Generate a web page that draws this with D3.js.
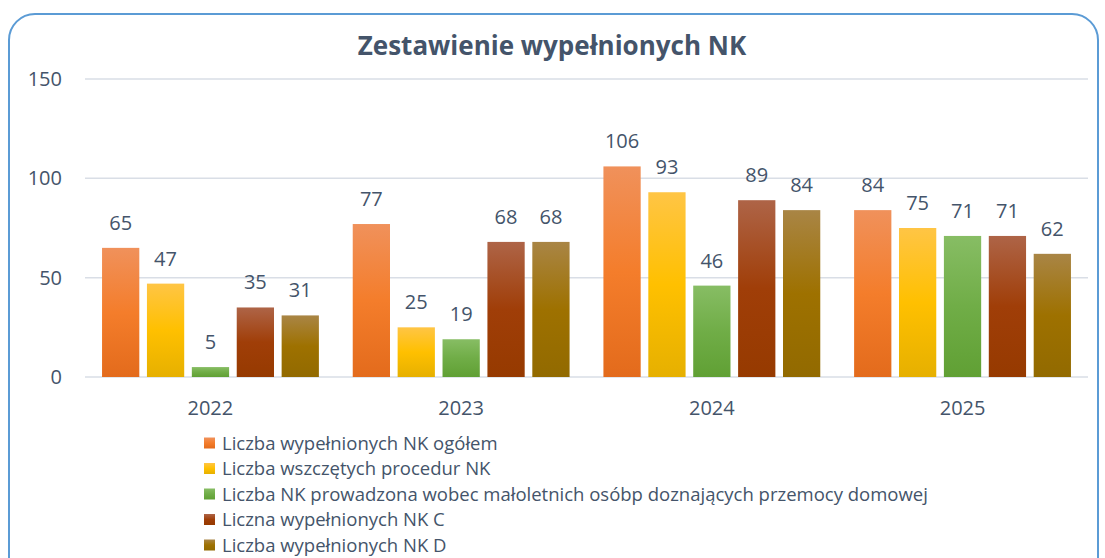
<!DOCTYPE html>
<html>
<head>
<meta charset="utf-8">
<script src="https://cdn.jsdelivr.net/npm/d3@7"></script>
<style>
  body { margin: 0; background: #fff; }
  svg { display: block; font-family: "Open Sans", sans-serif; }
</style>
</head>
<body>
<svg id="chart" width="1105" height="558"></svg>
<script>
// data
const years = ["2022", "2023", "2024", "2025"];
const seriesNames = [
  "Liczba wypełnionych NK ogółem",
  "Liczba wszczętych procedur NK",
  "Liczba NK prowadzona wobec małoletnich osóbp doznających przemocy domowej",
  "Liczna wypełnionych NK C",
  "Liczba wypełnionych NK D"
];
const ogolem = [65, 77, 106, 84];
const procedury = [47, 25, 93, 75];
const maloletni = [5, 19, 46, 71];
const nkC = [35, 68, 89, 71];
const nkD = [31, 68, 84, 62];
const yTicks = [0, 50, 100, 150];

const seriesValues = [ogolem, procedury, maloletni, nkC, nkD];
// gradient stops top / middle / bottom
const palette = [
  ["#F0915B", "#F47D2B", "#E36B1C"],
  ["#FFC545", "#FFC000", "#E6B000"],
  ["#87BD64", "#70AD47", "#60A034"],
  ["#AE6447", "#A03E08", "#963A00"],
  ["#A98545", "#9E7100", "#926A00"]
];
const textColor = "#44546A";

const svg = d3.select("#chart");

// outer rounded frame
svg.append("rect")
  .attr("x", 9).attr("y", 14)
  .attr("width", 1089).attr("height", 580)
  .attr("rx", 26).attr("ry", 26)
  .attr("fill", "#fff")
  .attr("stroke", "#5B9BD5")
  .attr("stroke-width", 2);

const defs = svg.append("defs");
palette.forEach((c, i) => {
  const g = defs.append("linearGradient")
    .attr("id", "grad" + i)
    .attr("x1", 0).attr("y1", 0).attr("x2", 0).attr("y2", 1);
  g.append("stop").attr("offset", "0%").attr("stop-color", c[0]);
  g.append("stop").attr("offset", "50%").attr("stop-color", c[1]);
  g.append("stop").attr("offset", "100%").attr("stop-color", c[2]);
});

// title
svg.append("text")
  .attr("x", 552).attr("y", 55)
  .attr("text-anchor", "middle")
  .attr("font-size", 26)
  .attr("font-weight", "bold")
  .attr("fill", textColor)
  .text("Zestawienie wypełnionych NK");

const x0 = d3.scaleBand().domain(years).range([85, 1088]).paddingInner(0.135).paddingOuter(0.068);
const x1 = d3.scaleBand().domain(d3.range(seriesNames.length)).range([0, x0.bandwidth()]).paddingInner(0.17);
const y = d3.scaleLinear().domain([0, 150]).range([377, 79]);

// grid
svg.append("g").selectAll("line")
  .data(yTicks)
  .join("line")
    .attr("x1", 85).attr("x2", 1088)
    .attr("y1", d => y(d)).attr("y2", d => y(d))
    .attr("stroke", "#D9DEE6")
    .attr("stroke-width", 1.5);

// y tick labels
svg.append("g").selectAll("text")
  .data(yTicks)
  .join("text")
    .attr("x", 62)
    .attr("y", d => y(d) + 7)
    .attr("text-anchor", "end")
    .attr("font-size", 20)
    .attr("fill", textColor)
    .text(d => d);

// x labels - band centers of the full year slot
const xSlot = d3.scaleBand().domain(years).range([85, 1088]);
svg.append("g").selectAll("text")
  .data(years)
  .join("text")
    .attr("x", d => xSlot(d) + xSlot.bandwidth() / 2)
    .attr("y", 415)
    .attr("text-anchor", "middle")
    .attr("font-size", 20)
    .attr("fill", textColor)
    .text(d => d);

// bars
const groups = svg.append("g").selectAll("g")
  .data(years)
  .join("g")
    .attr("transform", d => "translate(" + x0(d) + ",0)");

groups.selectAll("rect")
  .data((d, yi) => seriesValues.map((s, si) => ({ si: si, v: s[yi] })))
  .join("rect")
    .attr("x", d => x1(d.si))
    .attr("y", d => y(d.v))
    .attr("width", x1.bandwidth())
    .attr("height", d => y(0) - y(d.v))
    .attr("fill", d => "url(#grad" + d.si + ")");

groups.selectAll("text")
  .data((d, yi) => seriesValues.map((s, si) => ({ si: si, v: s[yi] })))
  .join("text")
    .attr("x", d => x1(d.si) + x1.bandwidth() / 2)
    .attr("y", d => y(d.v) - 18)
    .attr("text-anchor", "middle")
    .attr("font-size", 20)
    .attr("fill", textColor)
    .text(d => d.v);

// legend
const legend = svg.append("g").selectAll("g")
  .data(seriesNames)
  .join("g")
    .attr("transform", (d, i) => "translate(204," + (443 + i * 25.5) + ")");

legend.append("rect")
  .attr("x", 0).attr("y", -5.5)
  .attr("width", 11).attr("height", 11)
  .attr("fill", (d, i) => "url(#grad" + i + ")");

legend.append("text")
  .attr("x", 18).attr("y", 6.5)
  .attr("font-size", 18.5)
  .attr("fill", textColor)
  .text(d => d);
</script>
</body>
</html>
